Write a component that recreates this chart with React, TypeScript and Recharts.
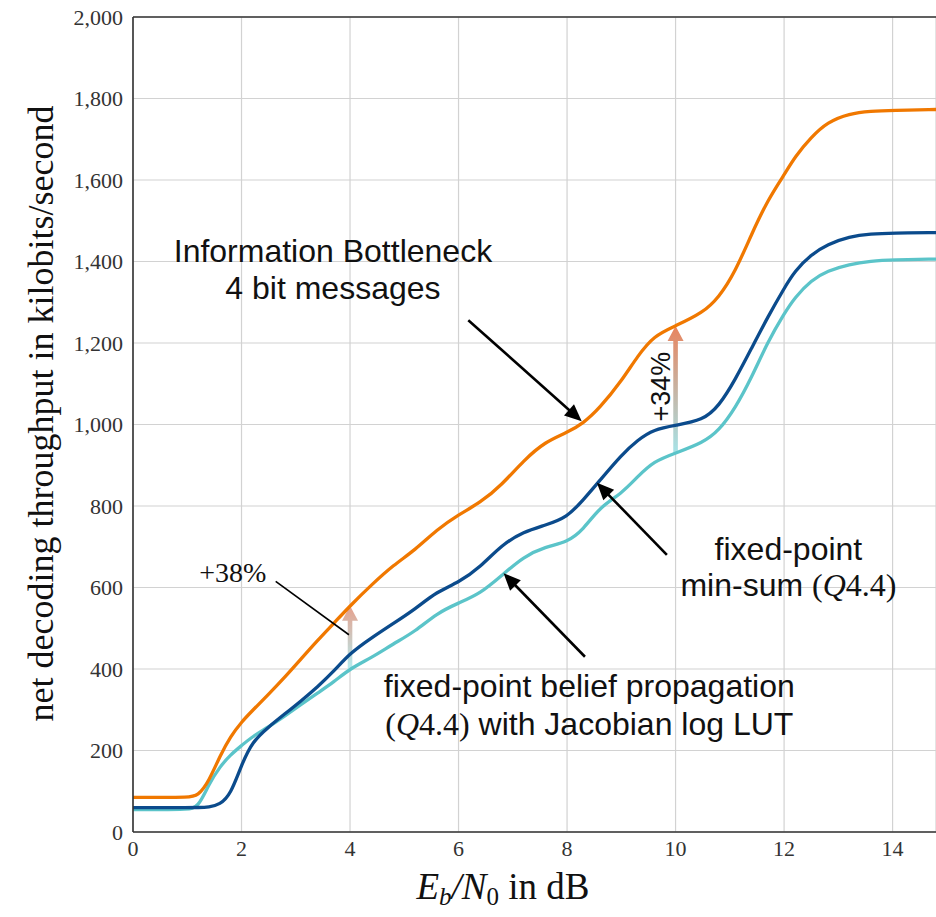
import React from 'react';
import { LineChart, Line, XAxis, YAxis, CartesianGrid, ReferenceLine, ReferenceDot, Label } from 'recharts';

const ebn0 = [0, 0.5, 1.0, 1.2, 1.4, 1.6, 1.8, 2.0, 2.2, 2.5, 2.8, 3.1, 3.4, 3.7, 4.0, 4.4, 4.8, 5.2, 5.6, 6.0, 6.4, 6.8, 7.2, 7.6, 8.0, 8.3, 8.6, 9.0, 9.3, 9.6, 10.0, 10.5, 10.8, 11.1, 11.4, 11.7, 12.0, 12.2, 12.5, 12.8, 13.2, 13.6, 14.0, 14.8];
const ibThroughput = [85, 85, 85, 88, 125, 186, 235, 270, 298, 338, 380, 425, 470, 512, 555, 607, 655, 692, 742, 779, 808, 852, 912, 958, 980, 1003, 1040, 1106, 1168, 1218, 1242, 1274, 1312, 1375, 1467, 1551, 1612, 1657, 1705, 1742, 1763, 1769, 1771, 1773];
const minSumThroughput = [60, 60, 60, 60, 61, 67, 92, 165, 222, 258, 290, 322, 356, 394, 439, 477, 512, 547, 590, 612, 650, 705, 737, 753, 772, 815, 862, 925, 962, 988, 998, 1010, 1045, 1110, 1187, 1264, 1334, 1377, 1417, 1442, 1461, 1468, 1470, 1471];
const bpThroughput = [55, 55, 56, 59, 118, 160, 190, 212, 234, 258, 285, 313, 341, 368, 401, 428, 462, 492, 537, 562, 585, 630, 676, 700, 711, 742, 797, 830, 872, 910, 930, 955, 985, 1040, 1115, 1203, 1272, 1312, 1354, 1377, 1393, 1401, 1404, 1406];

const xTicks = [0, 2, 4, 6, 8, 10, 12, 14];
const yTicks = [0, 200, 400, 600, 800, 1000, 1200, 1400, 1600, 1800, 2000];

// annotation anchors, in data coordinates
const pointerArrows = [
  { from: { x: 6.18, y: 1256 }, to: { x: 8.27, y: 1008 } },
  { from: { x: 9.84, y: 680 }, to: { x: 8.55, y: 857 } },
  { from: { x: 8.33, y: 430 }, to: { x: 6.83, y: 635 } },
];
const gainArrows = [
  { id: 'gain38', x: 4, from: 401, to: 555, top: '#e6a18d', bottom: '#b6ebef' },
  { id: 'gain34', x: 10, from: 930, to: 1242, top: '#e8845e', bottom: '#a6e3e8' },
];
const gain38Leader = { from: { x: 2.63, y: 615 }, to: { x: 3.98, y: 484 } };

const data = ebn0.map((x, i) => ({ x, ib: ibThroughput[i], ms: minSumThroughput[i], bp: bpThroughput[i] }));

const SANS = 'Liberation Sans, Arial, sans-serif';
const SERIF = 'Liberation Serif, Times New Roman, serif';

const PointerArrow = (p: any) => {
  const { x1, y1, x2, y2 } = p;
  const dx = x2 - x1, dy = y2 - y1;
  const len = Math.hypot(dx, dy) || 1;
  const ux = dx / len, uy = dy / len;
  const hl = 17, hw = 7.5;
  const bx = x2 - ux * hl, by = y2 - uy * hl;
  const px = -uy, py = ux;
  return (
    <g>
      <line x1={x1} y1={y1} x2={bx + ux * 2} y2={by + uy * 2} stroke="#000" strokeWidth={2.6} />
      <polygon points={`${x2},${y2} ${bx + px * hw},${by + py * hw} ${bx - px * hw},${by - py * hw}`} fill="#000" />
    </g>
  );
};

const GainArrow = (p: any) => {
  const { x1, y1, x2, y2, id, top, bottom } = p;
  const yb = Math.max(y1, y2), yt = Math.min(y1, y2);
  const cx = x1;
  const sw = 2.3, hw = 8, hl = 15;
  const d = `M${cx - sw},${yb} L${cx - sw},${yt + hl} L${cx - hw},${yt + hl} L${cx},${yt} L${cx + hw},${yt + hl} L${cx + sw},${yt + hl} L${cx + sw},${yb} Z`;
  return (
    <g>
      <defs>
        <linearGradient id={id} x1="0" y1="1" x2="0" y2="0">
          <stop offset="0" stopColor={bottom} />
          <stop offset="1" stopColor={top} />
        </linearGradient>
      </defs>
      <path d={d} fill={`url(#${id})`} />
    </g>
  );
};

const textLine = (content: React.ReactNode, opts: any = {}) => (p: any) => (
  <text
    x={p.cx}
    y={p.cy}
    textAnchor="middle"
    fontFamily={opts.family || SANS}
    fontSize={opts.size || 32}
    fill="#111"
    transform={opts.rotate ? `rotate(${opts.rotate}, ${p.cx}, ${p.cy})` : undefined}
  >
    {content}
  </text>
);

const Q44 = (
  <>
    <tspan fontFamily={SERIF}>(</tspan>
    <tspan fontFamily={SERIF} fontStyle="italic">Q</tspan>
    <tspan fontFamily={SERIF}>4.4)</tspan>
  </>
);

const YLabel = (p: any) => {
  const vb = p.viewBox || { x: 0, y: 17, width: 133, height: 815 };
  const cx = vb.x + 53;
  const cy = vb.y + vb.height / 2 - 11;
  return (
    <text x={cx} y={cy} textAnchor="middle" fontFamily={SERIF} fontSize={36} fill="#111" transform={`rotate(-90, ${cx}, ${cy})`}>
      net decoding throughput in kilobits/second
    </text>
  );
};

const XLabel = (p: any) => {
  const vb = p.viewBox || { x: 133, y: 832, width: 803, height: 85 };
  const cx = vb.x + 370;
  const cy = vb.y + 67;
  return (
    <text x={cx} y={cy} textAnchor="middle" fontFamily={SERIF} fontSize={37} fill="#111">
      <tspan fontStyle="italic">E</tspan>
      <tspan fontStyle="italic" fontSize={25} dy={6}>b</tspan>
      <tspan dy={-6} fontStyle="italic">/N</tspan>
      <tspan fontSize={25} dy={6}>0</tspan>
      <tspan dy={-6}> in dB</tspan>
    </text>
  );
};

export default function App() {
  return (
    <div style={{ position: 'absolute', left: 0, top: 0, width: 936, height: 917, background: '#fff' }}>
      <LineChart width={936} height={917} data={data} margin={{ top: 17, right: 0, bottom: 0, left: 0 }}>
        <CartesianGrid stroke="#d2d2d2" strokeWidth={1.2} />
        <XAxis
          type="number"
          dataKey="x"
          domain={[0, 14.8]}
          ticks={xTicks}
          allowDataOverflow
          height={85}
          tickLine={false}
          tickMargin={2}
          axisLine={{ stroke: '#333', strokeWidth: 1.6 }}
          tick={{ fontSize: 22, fill: '#333', fontFamily: SERIF }}
        >
          <Label content={XLabel} />
        </XAxis>
        <YAxis
          type="number"
          domain={[0, 2000]}
          ticks={yTicks}
          width={133}
          tickLine={false}
          tickMargin={4}
          axisLine={{ stroke: '#333', strokeWidth: 1.6 }}
          tick={{ fontSize: 22, fill: '#333', fontFamily: SERIF }}
          tickFormatter={(v: number) => v.toLocaleString('en-US')}
        >
          <Label content={YLabel} />
        </YAxis>
        <ReferenceLine y={2000} stroke="#333" strokeWidth={1.6} />

        {gainArrows.map((g) => (
          <ReferenceLine
            key={g.id}
            ifOverflow="visible"
            segment={[{ x: g.x, y: g.from }, { x: g.x, y: g.to }]}
            shape={(p: any) => <GainArrow {...p} id={g.id} top={g.top} bottom={g.bottom} />}
          />
        ))}

        <Line type="basis" dataKey="bp" stroke="#5bc4c9" strokeWidth={3.3} dot={false} isAnimationActive={false} />
        <Line type="basis" dataKey="ms" stroke="#0b4b8c" strokeWidth={3.3} dot={false} isAnimationActive={false} />
        <Line type="basis" dataKey="ib" stroke="#f07800" strokeWidth={3.3} dot={false} isAnimationActive={false} />

        {pointerArrows.map((a, i) => (
          <ReferenceLine
            key={`pa${i}`}
            ifOverflow="visible"
            segment={[a.from, a.to]}
            shape={(p: any) => <PointerArrow {...p} />}
          />
        ))}
        <ReferenceLine ifOverflow="visible" segment={[gain38Leader.from, gain38Leader.to]} stroke="#000" strokeWidth={1.6} />

        <ReferenceDot x={3.685} y={1400} r={0} ifOverflow="visible" shape={textLine('Information Bottleneck')} />
        <ReferenceDot x={3.685} y={1307} r={0} ifOverflow="visible" shape={textLine('4 bit messages')} />
        <ReferenceDot x={12.08} y={668} r={0} ifOverflow="visible" shape={textLine('fixed-point')} />
        <ReferenceDot x={12.08} y={578} r={0} ifOverflow="visible" shape={textLine(<>min-sum {Q44}</>)} />
        <ReferenceDot x={8.41} y={332} r={0} ifOverflow="visible" shape={textLine('fixed-point belief propagation')} />
        <ReferenceDot x={8.41} y={238} r={0} ifOverflow="visible" shape={textLine(<>{Q44} with Jacobian log LUT</>)} />
        <ReferenceDot x={1.84} y={614} r={0} ifOverflow="visible" shape={textLine('+38%', { family: SERIF, size: 28 })} />
        <ReferenceDot x={9.9} y={1093} r={0} ifOverflow="visible" shape={textLine('+34%', { size: 27, rotate: -90 })} />
      </LineChart>
    </div>
  );
}
